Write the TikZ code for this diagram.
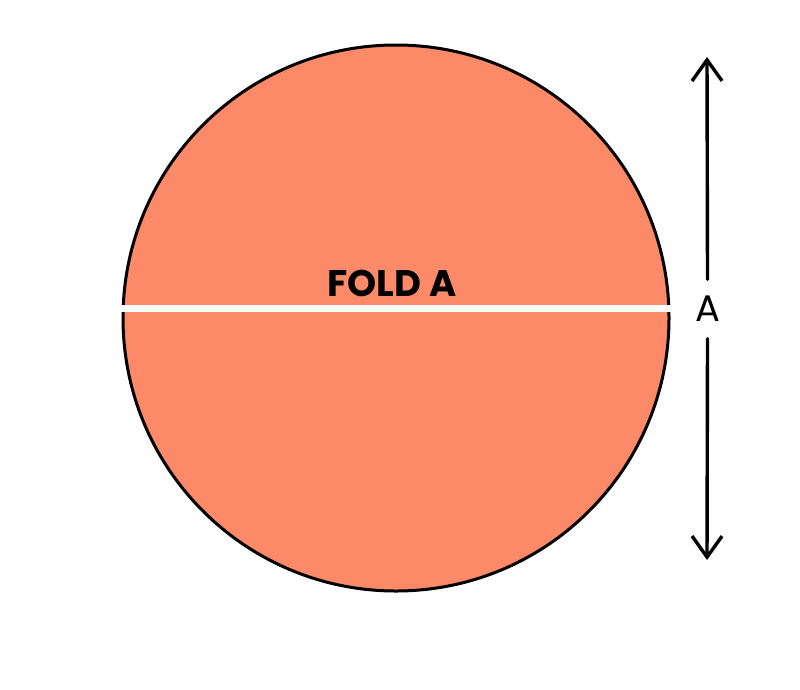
\documentclass[tikz,border=0pt]{standalone}
\usepackage{xcolor}
\usepackage{fontspec}
\setmainfont{Poppins}
\usepackage{tikz}
\usetikzlibrary{arrows.meta}
\definecolor{foldsalmon}{RGB}{252,138,104}

\begin{document}
\begin{tikzpicture}[x=1pt,y=-1pt,
    dimarrow/.style={line width=3.4pt,line cap=round,-{Straight Barb[length=21pt,width=30pt,line width=3.4pt]}}]
        \useasboundingbox (0,0) rectangle (800,689);
        \draw (396,318) coordinate (o);
        \draw (121,308.5) coordinate (foldl);
        \draw (671,308.5) coordinate (foldr);
        \draw (707,57) coordinate (atop);
        \draw (707,560) coordinate (abot);
        \filldraw[fill=foldsalmon,draw=black,line width=3pt] (o) circle (273);
        \draw[white,line width=7pt] (foldl)--(foldr);
        \node[anchor=base,font=\fontsize{37}{37}\selectfont\bfseries] (foldtext) at (392,296) {FOLD A};
        \node[inner sep=0pt,minimum height=59pt,font=\fontsize{37}{37}\selectfont\mdseries] (alabel) at (707.5,309) {A};
        \draw[dimarrow] (alabel.north)--(atop);
        \draw[dimarrow] (alabel.south)--(abot);
    \end{tikzpicture}
\end{document}
